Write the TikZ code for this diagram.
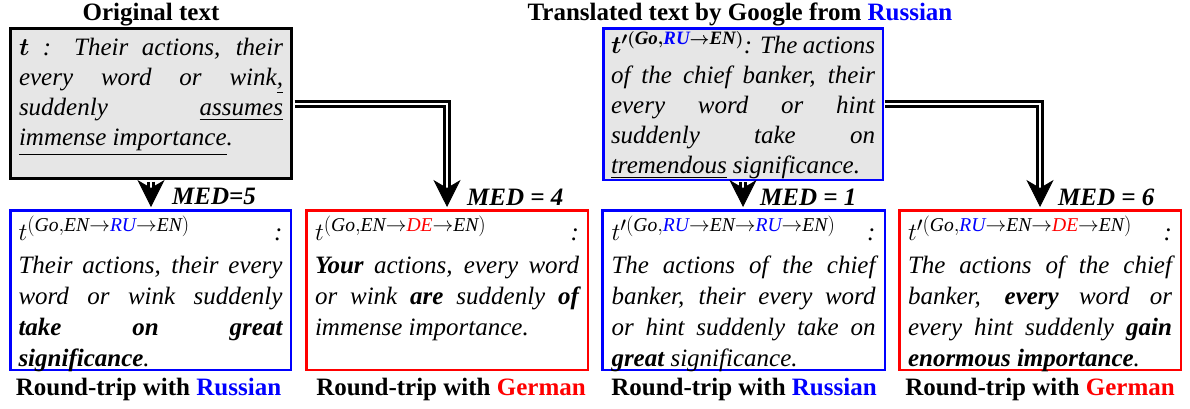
\documentclass[tikz,border=0pt]{standalone}
\usepackage{amsmath,bm}
\usepackage{fontspec}
\setmainfont{Liberation Serif}
\usetikzlibrary{arrows.meta}
\definecolor{boxgray}{HTML}{E6E6E6}
\definecolor{rublue}{HTML}{0000FF}
\definecolor{dered}{HTML}{FF0000}
\newcommand{\bodyfont}{\fontsize{25}{30}\selectfont\itshape}
\newcommand{\bodyfontb}{\fontsize{25}{31}\selectfont\itshape}
\newcommand{\mathbig}{\fontsize{28}{30}\selectfont}
\tikzset{
  box/.style={rectangle, inner sep=0pt, line width=2.5pt},
  ttl/.style={font=\fontsize{25}{30}\selectfont\bfseries, anchor=base, inner sep=0pt},
  med/.style={font=\fontsize{25}{30}\selectfont\bfseries\itshape, anchor=base west, inner sep=0pt},
  dbl/.style={draw=black, line width=3pt, double=white, double distance=2pt, line join=miter},
  headtip/.style={-{Stealth[length=27pt,width=27pt,inset=8pt]}, line width=0.8pt, shorten >=2pt},
}
\begin{document}
\begin{tikzpicture}[x=1pt,y=-1pt]
\useasboundingbox (0,0) rectangle (1190,408);

% titles
\node[ttl] (t1) at (151,20) {Original text};
\node[ttl] (t2) at (740,20) {Translated text by Google from \textcolor{rublue}{Russian}};

% top boxes
\node[box, draw=black, line width=3pt, fill=boxgray, minimum width=281pt, minimum height=150pt] (tl) at (151,103.5)
 {\parbox[c][131pt][t]{264pt}{\bodyfont $\bm{t}$ : Their actions, their\linebreak every word or wink\underline{,}\linebreak suddenly \underline{assumes}\linebreak \underline{immense importance}.}};

\node[box, draw=rublue, fill=boxgray, minimum width=279.5pt, minimum height=151.5pt] (tr) at (743,104)
 {\parbox[c][145.5pt][t]{264pt}{\bodyfont {\boldmath\fontsize{27}{30}\selectfont$t'^{(\mathit{Go},{\color{rublue}\mathit{RU}}\rightarrow\mathit{EN})}$}: The actions\linebreak of the chief banker, their\linebreak every word or hint\linebreak suddenly take on\linebreak \underline{tremendous} significance.}};

% bottom boxes
\node[box, draw=rublue, minimum width=280.5pt, minimum height=159.5pt] (b1) at (150.5,290)
 {\parbox[c][147.5pt][t]{264pt}{\bodyfontb {\mathbig$t^{(\mathit{Go},\mathit{EN}\rightarrow{\color{rublue}\mathit{RU}}\rightarrow\mathit{EN})}$}\hfill :\\[2pt]
 Their actions, their every\linebreak word or wink suddenly\linebreak \textbf{take on great}\linebreak \textbf{significance}.}};

\node[box, draw=dered, minimum width=281.5pt, minimum height=159.5pt] (b2) at (447,290)
 {\parbox[c][147.5pt][t]{264pt}{\bodyfontb {\mathbig$t^{(\mathit{Go},\mathit{EN}\rightarrow{\color{dered}\mathit{DE}}\rightarrow\mathit{EN})}$}\hfill :\\[2pt]
 \textbf{Your} actions, every word\linebreak or wink \textbf{are} suddenly \textbf{of}\linebreak immense importance.}};

\node[box, draw=rublue, minimum width=282.5pt, minimum height=159.5pt] (b3) at (743.5,290)
 {\parbox[c][147.5pt][t]{264pt}{\bodyfontb {\mathbig$t'^{(\mathit{Go},{\color{rublue}\mathit{RU}}\rightarrow\mathit{EN}\rightarrow{\color{rublue}\mathit{RU}}\rightarrow\mathit{EN})}$}\hfill :\\[2pt]
 The actions of the chief\linebreak banker, their every word\linebreak or hint suddenly take on\linebreak \textbf{great} significance.}};

\node[box, draw=dered, minimum width=281.5pt, minimum height=159.5pt] (b4) at (1040,290)
 {\parbox[c][147.5pt][t]{264pt}{\bodyfontb {\mathbig$t'^{(\mathit{Go},{\color{rublue}\mathit{RU}}\rightarrow\mathit{EN}\rightarrow{\color{dered}\mathit{DE}}\rightarrow\mathit{EN})}$}\hfill :\\[2pt]
 The actions of the chief\linebreak banker, \textbf{every} word or\linebreak every hint suddenly \textbf{gain}\linebreak \textbf{enormous importance}.}};

% bottom labels
\node[ttl] (l1) at (148.5,395) {Round-trip with \textcolor{rublue}{Russian}};
\node[ttl] (l2) at (451,395) {Round-trip with \textcolor{dered}{German}};
\node[ttl] (l3) at (744,395) {Round-trip with \textcolor{rublue}{Russian}};
\node[ttl] (l4) at (1040,395) {Round-trip with \textcolor{dered}{German}};

% MED labels
\node[med] (m1) at (172,204) {MED=5};
\node[med] (m2) at (467,205) {MED = 4};
\node[med] (m3) at (760,205) {MED = 1};
\node[med] (m4) at (1058,205) {MED = 6};

% connectors
\coordinate (e1) at (tl.south |- b1.north);
\coordinate (e3) at (tr.south |- b3.north);
\draw[dbl, shorten <=1.5pt, shorten >=14pt] (tl.south) -- (e1);
\draw[headtip] ([yshift=20pt]e1) -- (e1);
\draw[dbl, shorten <=1.5pt, shorten >=14pt] (tl.east) -| (b2.north);
\draw[headtip] ([yshift=20pt]b2.north) -- (b2.north);
\draw[dbl, shorten <=1.25pt, shorten >=14pt] (tr.south) -- (e3);
\draw[headtip] ([yshift=20pt]e3) -- (e3);
\draw[dbl, shorten <=1.25pt, shorten >=14pt] (tr.east) -| (b4.north);
\draw[headtip] ([yshift=20pt]b4.north) -- (b4.north);
\end{tikzpicture}
\end{document}
